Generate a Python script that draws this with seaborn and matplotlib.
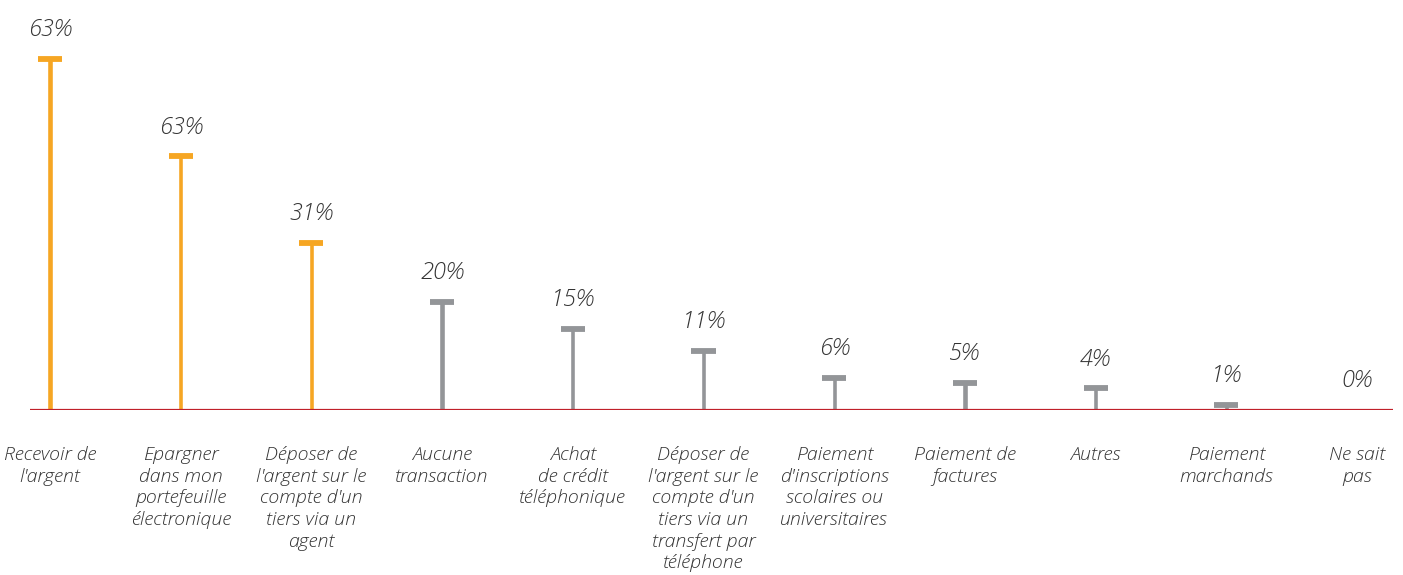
import matplotlib
matplotlib.use("Agg")
import matplotlib.pyplot as plt
import seaborn as sns
import pandas as pd

# categories as they appear under the baseline
categories = [
    "Recevoir de\nl'argent",
    "Epargner\ndans mon\nportefeuille\nélectronique",
    "Déposer de\nl'argent sur le\ncompte d'un\ntiers via un\nagent",
    "Aucune\ntransaction",
    "Achat\nde crédit\ntéléphonique",
    "Déposer de\nl'argent sur le\ncompte d'un\ntiers via un\ntransfert par\ntéléphone",
    "Paiement\nd'inscriptions\nscolaires ou\nuniversitaires",
    "Paiement de\nfactures",
    "Autres",
    "Paiement\nmarchands",
    "Ne sait\npas",
]
# heights (percent)
heights = [65, 47, 31, 20, 15, 11, 6, 5, 4, 1, 0]
# value labels as printed on the chart
value_labels = ["63%", "63%", "31%", "20%", "15%", "11%", "6%", "5%", "4%", "1%", "0%"]
highlight = [True, True, True, False, False, False, False, False, False, False, False]

ORANGE = "#F6A623"
GREY = "#939598"
RED = "#C0202A"
TEXT = "#333333"

df = pd.DataFrame({"cat": categories, "val": heights, "hl": highlight})
colors = [ORANGE if h else GREY for h in highlight]

sns.set_theme(style="white")
plt.rcParams["font.family"] = ["Open Sans", "DejaVu Sans"]

W, H = 1403, 575
fig = plt.figure(figsize=(W / 100, H / 100), dpi=100)
# axes from x=30px to 1393px, baseline at y=410px, top of image
ax = fig.add_axes([30 / W, (H - 410) / H, (1393 - 30) / W, 410 / H])

sns.barplot(data=df, x="cat", y="val", hue="cat", palette=colors,
            width=0.04, legend=False, ax=ax, saturation=1)

step = 130.7
ax.set_xlim(-20 / step, (1393 - 50) / step)
ax.set_ylim(0, 410 / 5.4)

# caps on top of each stem
for i, (v, c) in enumerate(zip(heights, colors)):
    if v > 0:
        ax.hlines(v, i - 0.092, i + 0.092, color=c, lw=4.2, capstyle="butt")
    ax.annotate(value_labels[i], (i, v), xytext=(0, 12), textcoords="offset points",
                ha="center", va="bottom", fontsize=17, fontstyle="italic",
                fontweight="light", color=TEXT)

ax.axhline(0, color=RED, lw=1.6, zorder=5)

ax.set_xticks([])
ax.set_yticks([])
ax.set_xlabel("")
ax.set_ylabel("")
for s in ax.spines.values():
    s.set_visible(False)
ax.patch.set_alpha(0)

for i, lab in enumerate(categories):
    ax.annotate(lab, (i, 0), xytext=(0, -26), textcoords="offset points",
                ha="center", va="top", fontsize=14, fontstyle="italic",
                fontweight="light", color=TEXT, linespacing=1.26,
                annotation_clip=False)

fig.savefig("out.png", dpi=100)
